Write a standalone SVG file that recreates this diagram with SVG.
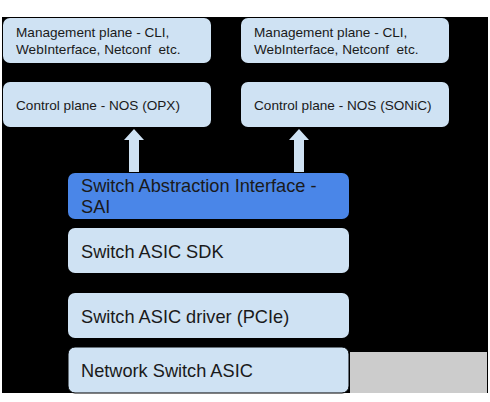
<svg xmlns="http://www.w3.org/2000/svg" width="490" height="402" viewBox="0 0 490 402">
<style>
.box{fill:#cfe2f3}
.sai{fill:#4a86e8}
.s{font-family:"Liberation Sans",Arial,sans-serif;font-size:13.6px;fill:#1a1a1a}
.l{font-family:"Liberation Sans",Arial,sans-serif;font-size:18.2px;fill:#1a1a1a}
.arr{fill:#cfe2f3}
</style>
<rect x="0" y="0" width="490" height="402" fill="#ffffff"/>
<rect x="2" y="17" width="486" height="376" fill="#000000"/>
<rect x="350" y="352" width="137" height="41" fill="#cccccc"/>
<g id="mgmt-left"><rect class="box" x="3" y="18" width="208" height="45" rx="7"/><text class="s" x="16" y="37">Management plane - CLI,</text><text class="s" x="16" y="54">WebInterface, Netconf&#160; etc.</text></g>
<g id="mgmt-right"><rect class="box" x="241" y="18" width="208" height="45" rx="7"/><text class="s" x="254" y="37">Management plane - CLI,</text><text class="s" x="254" y="54">WebInterface, Netconf&#160; etc.</text></g>
<g id="ctrl-left"><rect class="box" x="3" y="82" width="208" height="45" rx="7"/><text class="s" x="16" y="110">Control plane - NOS (OPX)</text></g>
<g id="ctrl-right"><rect class="box" x="241" y="82" width="208" height="45" rx="7"/><text class="s" x="254" y="110">Control plane - NOS (SONiC)</text></g>
<g id="sai"><rect class="sai" x="68" y="173" width="281" height="46" rx="7"/><text class="l" x="81" y="192">Switch Abstraction Interface -</text><text class="l" x="81" y="213">SAI</text></g>
<g id="sdk"><rect class="box" x="68" y="228" width="281" height="45" rx="7"/><text class="l" x="81" y="258">Switch ASIC SDK</text></g>
<g id="driver"><rect class="box" x="68" y="293" width="281" height="45" rx="7"/><text class="l" x="81" y="323">Switch ASIC driver (PCIe)</text></g>
<g id="asic"><rect class="box" x="68" y="347" width="281" height="46" rx="7" stroke="#000" stroke-width="1"/><text class="l" x="81" y="377">Network Switch ASIC</text></g>
<g id="connectors">
<polygon class="arr" points="134,129 144,140 139,140 139,172 129,172 129,140 124,140"/>
<polygon class="arr" points="299,129 309,140 304,140 304,172 294,172 294,140 289,140"/>
</g>
</svg>
